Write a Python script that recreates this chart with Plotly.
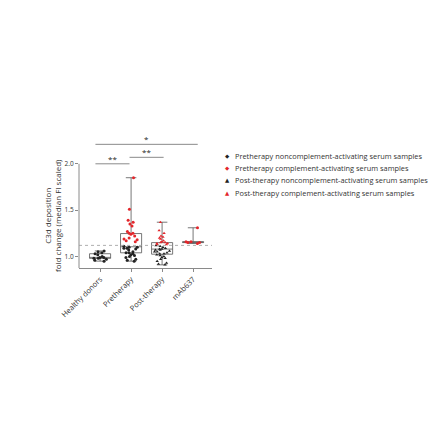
import numpy as np
import plotly.graph_objects as go

# categories on the x axis
categories = ['Healthy donors', 'Pretherapy', 'Post-therapy', 'mAb637']

# C3d deposition, fold change (median FI scaled)
healthy = [1.06, 1.05, 1.04, 1.03, 1.02, 1.00, 0.99, 0.99, 0.98, 0.98, 0.97, 0.96, 0.95]
pre_red = [1.85, 1.51, 1.39, 1.37, 1.35, 1.33, 1.27, 1.25, 1.25, 1.24, 1.22, 1.20,
           1.19, 1.18, 1.17, 1.16]
pre_black = [1.11, 1.10, 1.10, 1.09, 1.09, 1.08, 1.07, 1.05, 1.04, 1.04, 1.03, 1.02,
             1.01, 1.00, 0.99, 0.97, 0.96, 0.95]
post_red = [1.37, 1.28, 1.25, 1.22, 1.21, 1.20, 1.19, 1.17, 1.16, 1.15, 1.15, 1.14,
            1.14, 1.13, 1.13]
post_black = [1.12, 1.11, 1.10, 1.09, 1.08, 1.08, 1.07, 1.07, 1.06, 1.05, 1.05, 1.04,
              1.03, 1.03, 1.02, 1.01, 1.00, 0.99, 0.98, 0.97, 0.95, 0.93, 0.92, 0.91]
mab = [1.31, 1.16, 1.16, 1.15, 1.15, 1.14]

cutoff = 1.12

legend_labels = ['Pretherapy noncomplement-activating serum samples',
                 'Pretherapy complement-activating serum samples',
                 'Post-therapy noncomplement-activating serum samples',
                 'Post-therapy complement-activating serum samples']

# significance brackets: (start, end, level, label)
sig_bars = [(-0.15, 0.95, 2.00, '**'),
            (0.95, 2.05, 2.07, '**'),
            (-0.15, 3.15, 2.21, '*')]

RED = '#e3262b'
BLACK = '#222222'
GRID = '#8a8a8a'
FONT = 'Open Sans'

groups = [healthy, pre_red + pre_black, post_red + post_black, mab]

fig = go.Figure()

# min-to-max boxes (Prism style)
for cat, vals in zip(categories, groups):
    v = np.array(vals)
    fig.add_trace(go.Box(
        x=[cat], q1=[np.percentile(v, 25)], median=[np.median(v)],
        q3=[np.percentile(v, 75)], lowerfence=[v.min()], upperfence=[v.max()],
        width=0.68, whiskerwidth=0.5, fillcolor='white',
        line=dict(color='#555555', width=0.8), boxpoints=False,
        showlegend=False, hoverinfo='skip'))

# the points, jittered by the box trace itself
point_sets = [
    ('Healthy donors', healthy, BLACK, 'circle'),
    ('Pretherapy', pre_black, BLACK, 'circle'),
    ('Pretherapy', pre_red, RED, 'circle'),
    ('Post-therapy', post_black, BLACK, 'triangle-up'),
    ('Post-therapy', post_red, RED, 'triangle-up'),
    ('mAb637', mab, RED, 'circle'),
]
for cat, vals, col, sym in point_sets:
    fig.add_trace(go.Box(
        x=[cat] * len(vals), y=vals, boxpoints='all', jitter=0.9, pointpos=0,
        width=0.6, fillcolor='rgba(0,0,0,0)', line=dict(color='rgba(0,0,0,0)'),
        marker=dict(color=col, size=3, symbol=sym),
        showlegend=False, hoverinfo='y'))

shapes = [
    # y axis line, only up to 2.0
    dict(type='line', xref='paper', x0=0, x1=0, yref='y', y0=0.876, y1=2.0,
         line=dict(color=GRID, width=1)),
    # dotted cut-off line
    dict(type='line', xref='paper', x0=0, x1=1, yref='y', y0=cutoff, y1=cutoff,
         line=dict(color='#999999', width=0.8, dash='dot')),
]
annotations = []
for x0, x1, lvl, lab in sig_bars:
    shapes.append(dict(type='line', xref='x', x0=x0, x1=x1, yref='y', y0=lvl, y1=lvl,
                       line=dict(color=GRID, width=1)))
    annotations.append(dict(x=(x0 + x1) / 2, y=lvl, xref='x', yref='y', text=lab,
                            showarrow=False, yanchor='bottom', yshift=-2,
                            font=dict(family=FONT, size=8, color=BLACK)))

# legend drawn as text rows
glyphs = [('◆', BLACK), ('◆', RED), ('▲', BLACK), ('▲', RED)]
row_y = [0.848, 0.758, 0.667, 0.568]
for (g, col), lab, yy in zip(glyphs, legend_labels, row_y):
    annotations.append(dict(x=1.113, y=yy, xref='paper', yref='paper', text=g,
                            showarrow=False, xanchor='center', yanchor='middle',
                            font=dict(family='DejaVu Sans', size=5.5, color=col)))
    annotations.append(dict(x=1.155, y=yy, xref='paper', yref='paper', text=lab,
                            showarrow=False, xanchor='left', yanchor='middle',
                            font=dict(family=FONT, size=7.4, color='#333333')))

# y axis title
annotations.append(dict(x=-0.205, y=0.40, xref='paper', yref='paper',
                        text='C3d deposition<br>fold change (median FI scaled)',
                        textangle=-90, showarrow=False, xanchor='center',
                        yanchor='middle',
                        font=dict(family=FONT, size=8, color='#333333')))

# page body adds 8px, so margins are shifted to keep the plot area in place
fig.update_layout(
    width=440, height=441,
    margin=dict(l=71, r=236, t=128, b=181),
    paper_bgcolor='white', plot_bgcolor='white',
    boxmode='overlay',
    shapes=shapes, annotations=annotations,
    xaxis=dict(type='category', categoryorder='array', categoryarray=categories,
               range=[-0.68, 3.61], showline=True, linecolor=GRID, linewidth=1,
               ticks='outside', ticklen=3, tickcolor=GRID, tickangle=-45,
               showgrid=False, zeroline=False,
               tickfont=dict(family=FONT, size=7.5, color='#333333')),
    yaxis=dict(range=[0.876, 2.3], tickvals=[1.0, 1.5, 2.0], tickformat='.1f',
               showline=False, ticks='outside', ticklen=3, tickcolor=GRID,
               showgrid=False, zeroline=False,
               tickfont=dict(family=FONT, size=6.5, color='#333333')),
)

fig.write_html('out.html')
